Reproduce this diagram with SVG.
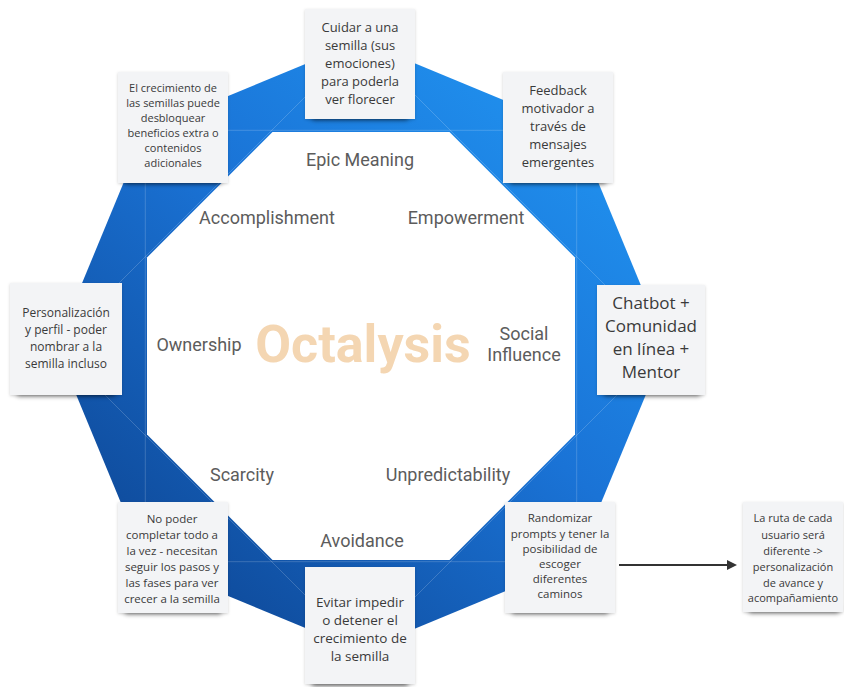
<svg xmlns="http://www.w3.org/2000/svg" width="844" height="687" viewBox="0 0 844 687">
<style>
.lbl{font-family:Roboto,"Liberation Sans",sans-serif;font-size:18px;fill:#5c5c5c;text-anchor:middle}
.title{font-family:Roboto,"Liberation Sans",sans-serif;font-weight:bold;font-size:52px;fill:#f4d6b2;text-anchor:middle}
.note{fill:#f3f4f6}
.ns{fill:#000;opacity:0.55}
.nt{font-family:"Open Sans","Liberation Sans",sans-serif;fill:#3a3a3a;text-anchor:middle}
.conn{stroke:#333;stroke-width:2;fill:none}
</style>
<defs>
<linearGradient id="ring" gradientUnits="userSpaceOnUse" x1="600" y1="70" x2="130" y2="620">
<stop offset="0" stop-color="#2196f3"/>
<stop offset="0.45" stop-color="#1a73d6"/>
<stop offset="1" stop-color="#0d4491"/>
</linearGradient>
<filter id="blur" x="-20%" y="-200%" width="140%" height="500%"><feGaussianBlur stdDeviation="2.5"/></filter>
<filter id="soft" x="-20%" y="-20%" width="140%" height="140%"><feDropShadow dx="0" dy="1" stdDeviation="1.5" flood-color="#000" flood-opacity="0.18"/></filter>
<marker id="arr" markerWidth="10" markerHeight="10" refX="8" refY="5" orient="auto" markerUnits="userSpaceOnUse"><path d="M0,0 L10,5 L0,10 Z" fill="#333"/></marker>
</defs>
<rect width="844" height="687" fill="#fff"/>
<g id="ring-shape">
<polygon points="361,41 576.7,130.3 666,346 576.7,561.7 361,651 145.3,561.7 56,346 145.3,130.3" fill="url(#ring)"/>
<g stroke="#ffffff" stroke-opacity="0.18" stroke-width="1" fill="none">
<polygon points="145.3,130.3 576.7,130.3 576.7,561.7 145.3,561.7"/>
<polygon points="361,41 666,346 361,651 56,346"/>
</g>
<polygon points="272.5,132 449.5,132 575,257.5 575,434.5 449.5,560 272.5,560 147,434.5 147,257.5" fill="#fff"/>
</g>
<g id="labels">
<text class="title" x="363" y="362">Octalysis</text>
<text class="lbl" x="360" y="166">Epic Meaning</text>
<text class="lbl" x="267" y="224">Accomplishment</text>
<text class="lbl" x="466" y="224">Empowerment</text>
<text class="lbl" x="199" y="351">Ownership</text>
<text class="lbl" x="524" y="340">Social</text>
<text class="lbl" x="524" y="361">Influence</text>
<text class="lbl" x="242" y="481">Scarcity</text>
<text class="lbl" x="448" y="481">Unpredictability</text>
<text class="lbl" x="362" y="547">Avoidance</text>
</g>
<g id="connectors">
<line class="conn" x1="619" y1="565" x2="735" y2="565" marker-end="url(#arr)"/>
</g>
<g id="note-top">
<rect class="ns" x="312" y="112" width="96" height="8" filter="url(#blur)"/>
<rect class="note" x="305" y="9" width="110" height="110" filter="url(#soft)"/>
<text class="nt" font-size="13" x="360"><tspan x="360" y="32">Cuidar a una</tspan><tspan x="360" y="50">semilla (sus</tspan><tspan x="360" y="68">emociones)</tspan><tspan x="360" y="86">para poderla</tspan><tspan x="360" y="104">ver florecer</tspan></text>
</g>
<g id="note-topleft">
<rect class="ns" x="125" y="176" width="96" height="8" filter="url(#blur)"/>
<rect class="note" x="118" y="72" width="110" height="111" filter="url(#soft)"/>
<text class="nt" font-size="11"><tspan x="173" y="92">El crecimiento de</tspan><tspan x="173" y="107">las semillas puede</tspan><tspan x="173" y="122">desbloquear</tspan><tspan x="173" y="137">beneficios extra o</tspan><tspan x="173" y="152">contenidos</tspan><tspan x="173" y="167">adicionales</tspan></text>
</g>
<g id="note-topright">
<rect class="ns" x="510" y="176" width="96" height="8" filter="url(#blur)"/>
<rect class="note" x="503" y="72" width="110" height="111" filter="url(#soft)"/>
<text class="nt" font-size="13"><tspan x="558" y="95">Feedback</tspan><tspan x="558" y="113">motivador a</tspan><tspan x="558" y="131">través de</tspan><tspan x="558" y="149">mensajes</tspan><tspan x="558" y="167">emergentes</tspan></text>
</g>
<g id="note-left">
<rect class="ns" x="17" y="388" width="98" height="8" filter="url(#blur)"/>
<rect class="note" x="10" y="283" width="112" height="112" filter="url(#soft)"/>
<text class="nt" font-size="12"><tspan x="66" y="317">Personalización</tspan><tspan x="66" y="334">y perfil - poder</tspan><tspan x="66" y="351">nombrar a la</tspan><tspan x="66" y="368">semilla incluso</tspan></text>
</g>
<g id="note-right">
<rect class="ns" x="604" y="388" width="96" height="8" filter="url(#blur)"/>
<rect class="note" x="597" y="285" width="108" height="110" filter="url(#soft)"/>
<text class="nt" font-size="17"><tspan x="651" y="309">Chatbot +</tspan><tspan x="651" y="332">Comunidad</tspan><tspan x="651" y="355">en línea +</tspan><tspan x="651" y="378">Mentor</tspan></text>
</g>
<g id="note-bottomleft">
<rect class="ns" x="125" y="606" width="96" height="8" filter="url(#blur)"/>
<rect class="note" x="118" y="502" width="110" height="111" filter="url(#soft)"/>
<text class="nt" font-size="11.5"><tspan x="172" y="523">No poder</tspan><tspan x="172" y="539">completar todo a</tspan><tspan x="172" y="555">la vez - necesitan</tspan><tspan x="172" y="571">seguir los pasos y</tspan><tspan x="172" y="587">las fases para ver</tspan><tspan x="172" y="603">crecer a la semilla</tspan></text>
</g>
<g id="note-bottom">
<rect class="ns" x="312" y="678" width="96" height="8" filter="url(#blur)"/>
<rect class="note" x="305" y="567" width="110" height="117" filter="url(#soft)"/>
<text class="nt" font-size="13.5"><tspan x="360" y="607">Evitar impedir</tspan><tspan x="360" y="625">o detener el</tspan><tspan x="360" y="643">crecimiento de</tspan><tspan x="360" y="661">la semilla</tspan></text>
</g>
<g id="note-bottomright">
<rect class="ns" x="512" y="606" width="96" height="8" filter="url(#blur)"/>
<rect class="note" x="505" y="502" width="110" height="111" filter="url(#soft)"/>
<text class="nt" font-size="11.5"><tspan x="560" y="522">Randomizar</tspan><tspan x="560" y="538">prompts y tener la</tspan><tspan x="560" y="553">posibilidad de</tspan><tspan x="560" y="568">escoger</tspan><tspan x="560" y="583">diferentes</tspan><tspan x="560" y="598">caminos</tspan></text>
</g>
<g id="note-far">
<rect class="ns" x="749" y="605" width="90" height="8" filter="url(#blur)"/>
<rect class="note" x="743" y="502" width="100" height="110" filter="url(#soft)"/>
<text class="nt" font-size="11"><tspan x="793" y="522">La ruta de cada</tspan><tspan x="793" y="539">usuario será</tspan><tspan x="793" y="555">diferente -&gt;</tspan><tspan x="793" y="571">personalización</tspan><tspan x="793" y="587">de avance y</tspan><tspan x="793" y="602">acompañamiento</tspan></text>
</g>
</svg>
